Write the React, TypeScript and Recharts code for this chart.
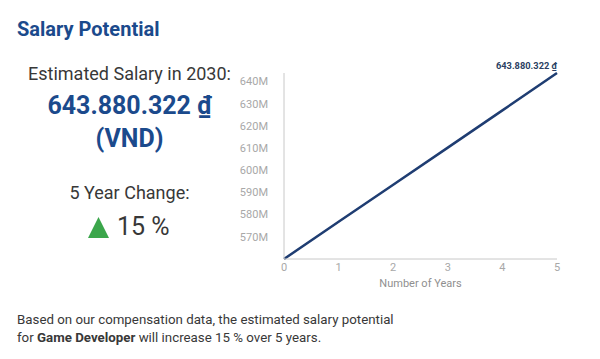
import React from 'react';
import { LineChart, Line, XAxis, YAxis, LabelList } from 'recharts';

// salary projection (VND)
const years = [0, 1, 2, 3, 4, 5];
const salary = [559900000, 576700000, 593400000, 610200000, 627000000, 643880322];
const yTicks = [570000000, 580000000, 590000000, 600000000, 610000000, 620000000, 630000000, 640000000];
const finalLabel = '643.880.322 ₫';

const FONT = 'Roboto, "Noto Sans", sans-serif';
const BLUE = '#1b4a8c';
const TEXT = '#383838';
const LINE = '#1f3d72';

const chartData = years.map((y, i) => ({ year: y, salary: salary[i] }));

const EndLabel = (props: any) => {
  const { x, y, index } = props;
  if (index !== years.length - 1) return null;
  return (
    <text x={x} y={y - 4} textAnchor="end" fontSize={9.3} fontWeight={700} fill="#2b3f63" fontFamily={FONT}>
      {finalLabel}
    </text>
  );
};

const abs = (top: number, extra: React.CSSProperties = {}): React.CSSProperties => ({
  position: 'absolute',
  top,
  lineHeight: 1,
  whiteSpace: 'nowrap',
  ...extra,
});

export default function App() {
  return (
    <div style={{ position: 'fixed', left: 0, top: 0, width: 600, height: 359, background: '#fff', fontFamily: FONT, overflow: 'hidden' }}>
      <div style={abs(19.2, { left: 17, fontSize: 20, fontWeight: 700, color: BLUE })}>Salary Potential</div>

      <div style={abs(64.8, { left: 20, width: 219, textAlign: 'center', fontSize: 18, color: TEXT })}>Estimated Salary in 2030:</div>
      <div style={abs(93.3, { left: 20, width: 219, textAlign: 'center', fontSize: 25, fontWeight: 700, color: BLUE })}>{finalLabel}</div>
      <div style={abs(125.7, { left: 20, width: 219, textAlign: 'center', fontSize: 25, fontWeight: 700, color: BLUE })}>(VND)</div>

      <div style={abs(184.1, { left: 20, width: 219, textAlign: 'center', fontSize: 18, color: TEXT })}>5 Year Change:</div>
      <svg style={{ position: 'absolute', left: 88, top: 216.7 }} width={21} height={21}>
        <polygon points="10.5,0 21,21 0,21" fill="#3ba64b" />
      </svg>
      <div style={abs(214, { left: 117, fontSize: 25, color: TEXT })}>15 %</div>

      <div style={abs(311, { left: 17, fontSize: 13.3, color: TEXT, lineHeight: '18.4px' })}>
        Based on our compensation data, the estimated salary potential
        <br />
        for <b>Game Developer</b> will increase 15 % over 5 years.
      </div>

      <div style={{ position: 'absolute', left: 230, top: 50 }}>
        <LineChart width={340} height={240} data={chartData} margin={{ top: 23, right: 13, bottom: 1, left: 0 }}>
          <XAxis
            dataKey="year"
            type="number"
            domain={[0, 5]}
            ticks={years}
            tickLine={false}
            tickSize={3}
            tickMargin={1}
            height={30}
            axisLine={{ stroke: '#c8c8c8' }}
            tick={{ fontSize: 11, fill: '#a8a8a8', fontFamily: FONT }}
            label={{ value: 'Number of Years', position: 'insideBottom', offset: 2, fontSize: 11, fill: '#8f8f8f', fontFamily: FONT }}
          />
          <YAxis
            type="number"
            domain={['dataMin', 'dataMax']}
            ticks={yTicks}
            tickLine={false}
            tickSize={6}
            tickMargin={10}
            width={54}
            axisLine={{ stroke: '#c8c8c8' }}
            tick={{ fontSize: 11, fill: '#a8a8a8', fontFamily: FONT }}
            tickFormatter={(v: number) => `${Math.round(v / 1000000)}M`}
          />
          <Line type="linear" dataKey="salary" stroke={LINE} strokeWidth={2.5} dot={false} isAnimationActive={false}>
            <LabelList dataKey="salary" content={<EndLabel />} />
          </Line>
        </LineChart>
      </div>
    </div>
  );
}
